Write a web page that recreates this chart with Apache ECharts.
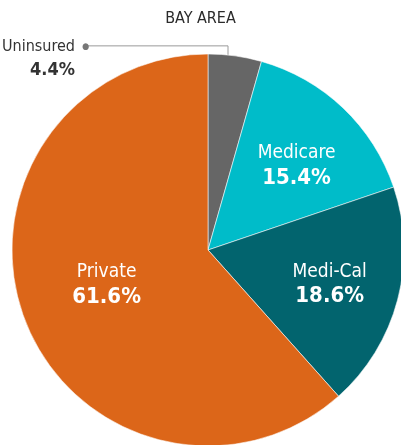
<!DOCTYPE html>
<html>
<head>
<meta charset="utf-8">
<script src="https://cdn.jsdelivr.net/npm/echarts@6/dist/echarts.min.js"></script>
<style>
  html, body { margin: 0; padding: 0; background: #fff; }
  #chart { width: 401px; height: 445px; }
</style>
</head>
<body>
<div id="chart"></div>
<script>
var titleText = 'BAY AREA';
var categories = ['Uninsured', 'Medicare', 'Medi-Cal', 'Private'];
var shares = [4.4, 15.4, 18.6, 61.6];
var colors = ['#666666', '#00bcc9', '#02646e', '#dc6619'];
// nudges for the inside labels (px), same order as categories
var labelShift = [[0, 0], [19, -11], [24, 9], [-7, -1]];

var FONT = "'DejaVu Sans Condensed', 'Liberation Sans Narrow', sans-serif";

var chart = echarts.init(document.getElementById('chart'), null, { renderer: 'canvas' });

var data = categories.map(function (name, i) {
  var item = {
    name: name,
    value: shares[i],
    itemStyle: { color: colors[i] }
  };
  if (i === 0) {
    // outside label with leader line, like the original
    item.label = {
      show: true,
      position: 'outside',
      formatter: '{n|{b}}{d|●}\n{v|{c}%}{s|}'
    };
    item.labelLine = { show: true, lineStyle: { color: '#9a9a9a', width: 1 } };
  }
  return item;
});

var option = {
  animation: false,
  title: {
    text: titleText,
    left: 'center',
    top: 6,
    textStyle: { fontFamily: FONT, fontSize: 16, fontWeight: 'normal', color: '#2b2b2b' }
  },
  series: [
    {
      type: 'pie',
      center: [208, 250],
      radius: [0, 196],
      startAngle: 90,
      clockwise: true,
      avoidLabelOverlap: false,
      itemStyle: { borderColor: 'rgba(255,255,255,0.55)', borderWidth: 1 },
      label: {
        show: true,
        position: 'inside',
        formatter: '{n|{b}}\n{v|{c}%}',
        fontFamily: FONT,
        rich: {
          n: { fontFamily: FONT, fontSize: 19, color: '#fff', lineHeight: 24 },
          v: { fontFamily: FONT, fontSize: 22, fontWeight: 'bold', color: '#fff', lineHeight: 26 }
        }
      },
      labelLine: { show: false },
      labelLayout: function (params) {
        var i = params.dataIndex;
        if (i === 0) {
          var p = params.labelLinePoints && params.labelLinePoints[0];
          if (!p) return {};
          var ax = p[0], ay = p[1];
          return {
            x: ax - 146,
            y: ay + 3,
            align: 'right',
            verticalAlign: 'middle',
            labelLinePoints: [[ax - 7, ay + 2], [ax - 7, ay - 10], [ax - 149, ay - 10]]
          };
        }
        return { dx: labelShift[i][0], dy: labelShift[i][1] };
      },
      data: data
    }
  ]
};

// rich styles for the outside label
data[0].label.rich = {
  n: { fontFamily: FONT, fontSize: 16, color: '#333', lineHeight: 22 },
  d: { fontSize: 9, color: '#777', width: 14, align: 'right', lineHeight: 22 },
  v: { fontFamily: FONT, fontSize: 18, fontWeight: 'bold', color: '#333', lineHeight: 24 },
  s: { width: 14, lineHeight: 24 }
};

chart.setOption(option);
</script>
</body>
</html>
